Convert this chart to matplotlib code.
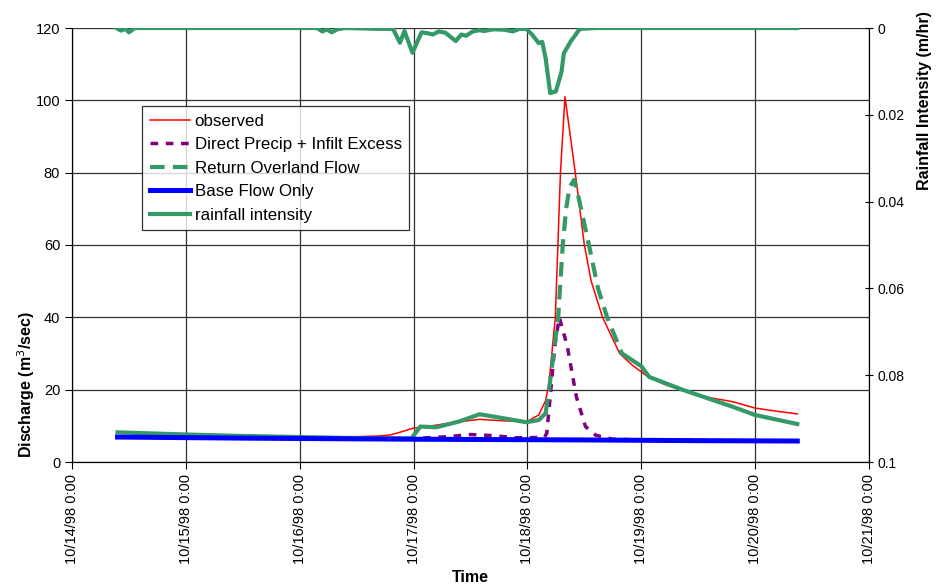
import numpy as np
import matplotlib
matplotlib.use("Agg")
import matplotlib.pyplot as plt

plt.rcParams['font.family'] = ['Liberation Sans', 'DejaVu Sans']

# time in days since 10/14/98 0:00
day_labels = ['10/14/98 0:00', '10/15/98 0:00', '10/16/98 0:00', '10/17/98 0:00',
              '10/18/98 0:00', '10/19/98 0:00', '10/20/98 0:00', '10/21/98 0:00']

obs_t = [0.40, 1.0, 2.0, 2.5, 2.7, 2.8, 2.9, 3.0, 3.1, 3.3, 3.58, 3.78, 3.99, 4.1, 4.16,
         4.19, 4.245, 4.29, 4.33, 4.42, 4.5, 4.56, 4.66, 4.81, 4.92, 5.04, 5.2, 5.36,
         5.6, 5.8, 6.0, 6.2, 6.37]
obs_q = [7.0, 7.0, 6.9, 7.0, 7.2, 7.5, 8.4, 9.4, 9.7, 10.7, 11.8, 11.4, 11.1, 13.0, 17.0,
         22.0, 40.0, 80.0, 101.0, 80.0, 60.0, 50.0, 40.0, 30.0, 26.8, 24.0, 21.5, 19.8,
         17.8, 16.7, 14.9, 14.0, 13.3]

dp_t = [0.40, 3.0, 3.3, 3.5, 3.7, 3.9, 4.15, 4.17, 4.2, 4.24, 4.28, 4.35, 4.43, 4.51,
        4.6, 4.75, 5.0, 6.37]
dp_q = [7.0, 6.5, 7.0, 7.6, 7.3, 6.7, 6.8, 8.0, 18.0, 32.0, 40.0, 32.0, 18.0, 9.8,
        7.4, 6.3, 6.1, 5.8]

ro_t = [0.40, 1.0, 1.5, 2.0, 2.5, 2.98, 3.06, 3.2, 3.4, 3.58, 3.75, 3.99, 4.1, 4.16,
        4.19, 4.27, 4.31, 4.34, 4.37, 4.41, 4.45, 4.54, 4.62, 4.70, 4.83, 5.0, 5.07,
        5.36, 5.8, 6.0, 6.37]
ro_q = [8.2, 7.6, 7.2, 6.9, 6.6, 6.5, 9.8, 9.6, 11.2, 13.2, 12.3, 11.0, 11.6, 13.5,
        20.0, 40.0, 60.0, 70.0, 76.0, 78.0, 73.0, 60.0, 48.0, 40.0, 30.0, 26.5, 23.5,
        20.0, 15.3, 13.0, 10.5]

bf_t = [0.40, 1.5, 3.0, 4.5, 5.5, 6.37]
bf_q = [6.9, 6.6, 6.3, 6.1, 5.9, 5.8]

rain_t = [0.39, 0.43, 0.47, 0.50, 0.55, 2.15, 2.2, 2.24, 2.28, 2.33, 2.4, 2.7, 2.82,
          2.88, 2.92, 2.99, 3.07, 3.12, 3.17, 3.22, 3.28, 3.37, 3.42, 3.46, 3.52, 3.58,
          3.62, 3.7, 3.8, 3.87, 3.93, 3.99, 4.04, 4.1, 4.13, 4.16, 4.2, 4.25, 4.30,
          4.32, 4.38, 4.46, 4.6, 6.37]
rain_i = [0, 0.0006, 0.0002, 0.001, 0, 0, 0.0008, 0.0003, 0.001, 0.0003, 0, 0.0002,
          0.0002, 0.0034, 0.0007, 0.0057, 0.001, 0.0012, 0.0015, 0.0008, 0.0011, 0.003,
          0.0015, 0.0018, 0.0008, 0.0005, 0.0007, 0.0003, 0.0004, 0.0008, 0.0002,
          0.0002, 0.0015, 0.0035, 0.0032, 0.007, 0.015, 0.0146, 0.010, 0.0058, 0.0031,
          0.0002, 0, 0]

green = '#339966'

fig = plt.figure(figsize=(9.47, 5.87), dpi=100)
ax = fig.add_axes([72/947, 1-462/587, (869-72)/947, (462-28)/587])

ax.plot(obs_t, obs_q, color='red', lw=1.1, zorder=3, label='observed')
ax.plot(dp_t, dp_q, color='#800080', lw=2.5, dashes=(2.2, 2.2), zorder=3,
        label='Direct Precip + Infilt Excess')

# return overland flow: dashes show only on the long steep segments
ro_t = np.array(ro_t)
ro_q = np.array(ro_q)
mid = (ro_t >= 4.16) & (ro_t <= 4.92)
ax.plot(ro_t[mid], ro_q[mid], color=green, lw=3, dashes=(3.5, 2), zorder=3,
        label='Return Overland Flow')
lo = ro_t <= 4.16
hi = ro_t >= 4.83
ax.plot(ro_t[lo], ro_q[lo], color=green, lw=3, zorder=3)
ax.plot(ro_t[hi], ro_q[hi], color=green, lw=3, zorder=3)

ax.plot(bf_t, bf_q, color='#0000ff', lw=3.6, zorder=4, label='Base Flow Only')

ax.set_xlim(0, 7)
ax.set_ylim(0, 120)
ax.set_xticks(range(8))
ax.set_xticklabels(day_labels, rotation=90, fontsize=10.5)
ax.set_yticks(range(0, 121, 20))
ax.tick_params(axis='y', labelsize=10.5, direction='out', length=5)
ax.tick_params(axis='x', direction='out', length=5)
ax.grid(True, color='#303030', lw=0.9)
ax.set_axisbelow(True)
ax.spines['top'].set_visible(False)

ax2 = ax.twinx()
ax2.plot(rain_t, rain_i, color=green, lw=3, zorder=3)
ax2.set_ylim(0.1, 0)
ax2.set_yticks([0, 0.02, 0.04, 0.06, 0.08, 0.1])
ax2.set_yticklabels(['0', '0.02', '0.04', '0.06', '0.08', '0.1'])
ax2.tick_params(axis='y', labelsize=10, direction='inout', length=6, pad=3)
ax2.spines['top'].set_visible(False)

handles, labels = ax.get_legend_handles_labels()
rain_handle = plt.Line2D([], [], color=green, lw=3)
handles.append(rain_handle)
labels.append('rainfall intensity')
leg = ax2.legend(handles, labels, loc='upper left', bbox_to_anchor=(0.088, 0.82),
                 borderaxespad=0, fontsize=12.2, frameon=True, fancybox=False,
                 handlelength=2.4, handletextpad=0.25, labelspacing=0.5,
                 borderpad=0.45)
leg.get_frame().set_edgecolor('black')
leg.get_frame().set_linewidth(0.9)

fig.text(26/947, 1-385/587, 'Discharge (m$^3$/sec)', rotation=90, ha='center',
         va='center', fontsize=11.5, fontweight='bold')
fig.text(470/947, 1-578/587, 'Time', ha='center', va='center', fontsize=11.5,
         fontweight='bold')
fig.text(924/947, 1-101/587, 'Rainfall Intensity (m/hr)', rotation=90, ha='center',
         va='center', fontsize=11.5, fontweight='bold')

fig.savefig('out.png', dpi=100)
